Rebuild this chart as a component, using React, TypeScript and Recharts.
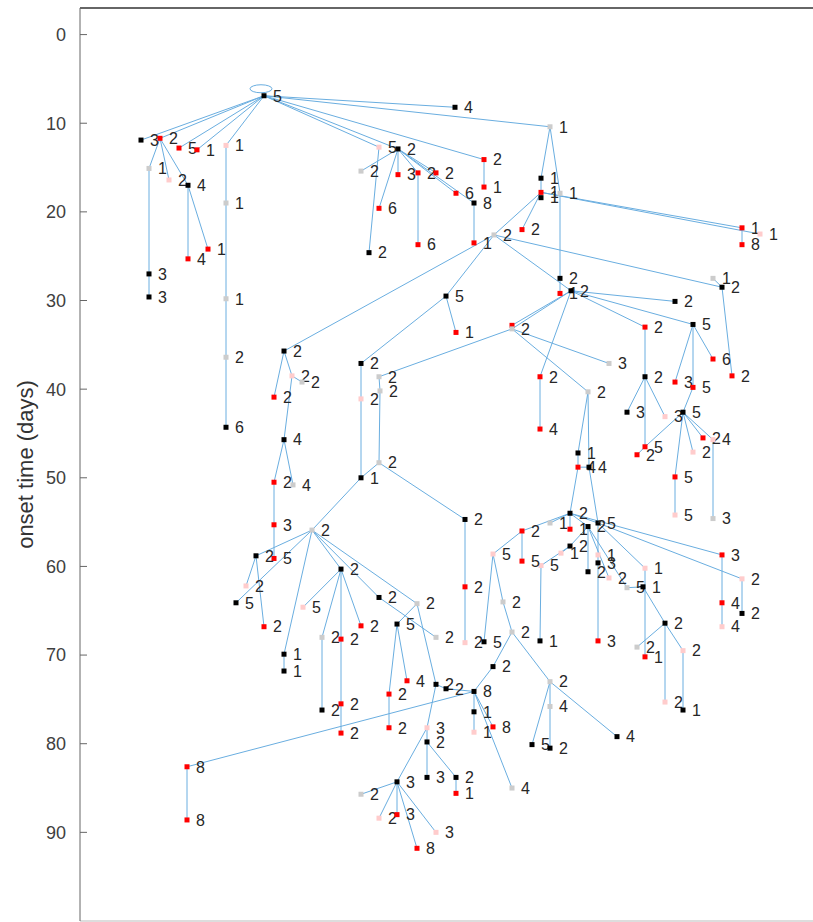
import { ScatterChart, Scatter, XAxis, YAxis, ReferenceLine } from "recharts";

// [case id, horizontal position in the tree, onset day, status, case count]
// status: k = black, r = red, p = pink, g = grey
type Row = [string, number, number, string, number];

const leftBranch: Row[] = [
  ["n0", 264, 6.9, "k", 5],
  ["a1", 141, 11.9, "k", 3],
  ["a2", 160, 11.7, "r", 2],
  ["a3", 179, 12.8, "r", 5],
  ["a4", 197, 13.0, "r", 1],
  ["a5", 226, 12.5, "p", 1],
  ["a6", 149, 15.1, "g", 1],
  ["a7", 169, 16.4, "p", 2],
  ["a8", 188, 17.0, "k", 4],
  ["a9", 208, 24.2, "r", 1],
  ["a10", 188, 25.3, "r", 4],
  ["a11", 149, 27.0, "k", 3],
  ["a12", 149, 29.6, "k", 3],
  ["a13", 226, 19.0, "g", 1],
  ["a14", 226, 29.8, "g", 1],
  ["a15", 226, 36.4, "g", 2],
  ["a16", 226, 44.3, "k", 6],
];

const upperBranch: Row[] = [
  ["b1", 455, 8.2, "k", 4],
  ["b2", 550, 10.4, "g", 1],
  ["b3", 398, 12.9, "k", 2],
  ["b4", 379, 12.7, "p", 5],
  ["b5", 361, 15.4, "g", 2],
  ["b6", 398, 15.8, "r", 3],
  ["b7", 418, 15.6, "r", 2],
  ["b8", 436, 15.6, "r", 2],
  ["b9", 484, 14.1, "r", 2],
  ["b10", 484, 17.2, "r", 1],
  ["b11", 456, 17.9, "r", 6],
  ["b12", 474, 19.0, "k", 8],
  ["b13", 379, 19.6, "r", 6],
  ["b14", 369, 24.6, "k", 2],
  ["b15", 418, 23.7, "r", 6],
  ["b16", 474, 23.5, "r", 1],
  ["b17", 494, 22.6, "g", 2],
  ["b18", 522, 22.0, "r", 2],
  ["b19", 541, 16.2, "k", 1],
  ["b20", 541, 17.8, "r", 1],
  ["b21", 541, 18.4, "k", 1],
  ["b22", 560, 17.9, "g", 1],
  ["b23", 742, 21.8, "r", 1],
  ["b24", 760, 22.5, "p", 1],
  ["b25", 742, 23.7, "r", 8],
  ["b26", 560, 27.5, "k", 2],
  ["b27", 560, 29.2, "r", 1],
  ["b28", 571, 28.9, "k", 2],
  ["b29", 713, 27.5, "g", 1],
  ["b30", 722, 28.5, "k", 2],
  ["b31", 675, 30.1, "k", 2],
  ["b32", 446, 29.5, "k", 5],
];

const lowerLeft: Row[] = [
  ["c1", 284, 35.7, "k", 2],
  ["c2", 292, 38.5, "p", 2],
  ["c3", 302, 39.2, "g", 2],
  ["c4", 274, 40.9, "r", 2],
  ["c5", 284, 45.7, "k", 4],
  ["c6", 274, 50.5, "r", 2],
  ["c7", 293, 50.8, "g", 4],
  ["c8", 274, 55.3, "r", 3],
  ["c9", 274, 59.1, "r", 5],
  ["c10", 312, 55.9, "g", 2],
  ["c11", 256, 58.8, "k", 2],
  ["c12", 246, 62.2, "p", 2],
  ["c13", 236, 64.1, "k", 5],
  ["c14", 264, 66.8, "r", 2],
  ["c15", 303, 64.6, "p", 5],
  ["c16", 284, 69.9, "k", 1],
  ["c17", 284, 71.8, "k", 1],
  ["c18", 322, 68.0, "g", 2],
  ["c19", 322, 76.2, "k", 2],
  ["c20", 341, 60.3, "k", 2],
  ["c21", 361, 66.7, "r", 2],
  ["c22", 341, 68.2, "r", 2],
  ["c23", 341, 75.5, "r", 2],
  ["c24", 341, 78.8, "r", 2],
  ["c25", 379, 63.5, "k", 2],
  ["c26", 417, 64.2, "g", 2],
  ["c27", 397, 66.5, "k", 5],
  ["c28", 436, 68.0, "g", 2],
  ["c29", 407, 72.9, "r", 4],
  ["c30", 389, 74.4, "r", 2],
  ["c31", 389, 78.2, "r", 2],
  ["c32", 436, 73.3, "k", 2],
  ["c33", 446, 73.8, "k", 2],
  ["c34", 474, 74.1, "k", 8],
  ["c35", 474, 76.4, "k", 1],
  ["c36", 474, 78.7, "p", 1],
  ["c37", 493, 78.1, "r", 8],
  ["c38", 512, 85.0, "g", 4],
  ["c39", 187, 82.6, "r", 8],
  ["c40", 187, 88.6, "r", 8],
  ["c41", 427, 78.2, "p", 3],
  ["c42", 427, 79.8, "k", 2],
  ["c43", 427, 83.8, "k", 3],
  ["c44", 456, 83.8, "k", 2],
  ["c45", 456, 85.6, "r", 1],
  ["c46", 397, 84.3, "k", 3],
  ["c47", 361, 85.7, "g", 2],
  ["c48", 379, 88.4, "p", 2],
  ["c49", 397, 88.0, "r", 3],
  ["c50", 436, 90.0, "p", 3],
  ["c51", 417, 91.8, "r", 8],
];

const centreBranch: Row[] = [
  ["d1", 456, 33.6, "r", 1],
  ["d2r", 512, 32.8, "r", 0],
  ["d2", 512, 33.2, "g", 2],
  ["d3", 361, 37.1, "k", 2],
  ["d4", 379, 38.6, "g", 2],
  ["d5", 380, 40.2, "g", 2],
  ["d6", 361, 41.1, "p", 2],
  ["d7", 379, 48.3, "g", 2],
  ["d8", 361, 50.0, "k", 1],
  ["d9", 465, 54.7, "k", 2],
  ["d10", 465, 62.3, "r", 2],
  ["d11", 465, 68.6, "p", 2],
  ["d12", 540, 38.6, "r", 2],
  ["d13", 540, 44.5, "r", 4],
  ["d14", 609, 37.1, "g", 3],
  ["d15", 588, 40.3, "g", 2],
  ["d16", 578, 47.2, "k", 1],
  ["d17", 578, 48.8, "r", 4],
  ["d18", 589, 48.8, "k", 4],
];

const lowerRight: Row[] = [
  ["e1", 570, 54.0, "k", 2],
  ["e2", 550, 55.1, "g", 1],
  ["e3", 570, 55.8, "r", 1],
  ["e4", 598, 55.1, "k", 5],
  ["e5", 588, 55.5, "k", 2],
  ["e6", 570, 57.7, "k", 2],
  ["e7", 561, 58.5, "p", 1],
  ["e8", 541, 59.9, "p", 5],
  ["e9", 588, 60.6, "k", 2],
  ["e10", 598, 58.7, "p", 1],
  ["e11", 598, 59.6, "k", 3],
  ["e12", 609, 61.3, "p", 2],
  ["e13", 645, 60.2, "p", 1],
  ["e14", 627, 62.4, "g", 5],
  ["e15", 643, 62.3, "k", 1],
  ["e16", 522, 56.0, "r", 2],
  ["e17", 522, 59.4, "r", 5],
  ["e18", 493, 58.6, "p", 5],
  ["e19", 503, 64.0, "g", 2],
  ["e20", 484, 68.5, "k", 5],
  ["e21", 512, 67.4, "g", 2],
  ["e22", 493, 71.3, "k", 2],
  ["e23", 540, 68.4, "k", 1],
  ["e24", 598, 68.4, "r", 3],
  ["e25", 722, 58.7, "r", 3],
  ["e26", 742, 61.4, "p", 2],
  ["e27", 722, 64.1, "r", 4],
  ["e28", 742, 65.3, "k", 2],
  ["e29", 722, 66.8, "p", 4],
  ["e30", 665, 66.4, "k", 2],
  ["e31", 637, 69.1, "g", 2],
  ["e32", 645, 70.2, "r", 1],
  ["e33", 683, 69.5, "p", 2],
  ["e34", 665, 75.3, "p", 2],
  ["e35", 683, 76.2, "k", 1],
  ["e36", 550, 73.0, "g", 2],
  ["e37", 550, 75.8, "g", 4],
  ["e38", 532, 80.1, "k", 5],
  ["e39", 550, 80.5, "k", 2],
  ["e40", 617, 79.2, "k", 4],
];

const rightBranch: Row[] = [
  ["f1", 645, 33.0, "r", 2],
  ["f2", 693, 32.7, "k", 5],
  ["f3", 713, 36.6, "r", 6],
  ["f4", 732, 38.5, "r", 2],
  ["f5", 645, 38.6, "k", 2],
  ["f6", 675, 39.2, "r", 3],
  ["f7", 693, 39.8, "r", 5],
  ["f8", 627, 42.6, "k", 3],
  ["f9", 665, 43.1, "p", 3],
  ["f10", 683, 42.6, "k", 5],
  ["f11", 645, 46.5, "r", 5],
  ["f12", 637, 47.4, "r", 2],
  ["f13", 703, 45.5, "r", 2],
  ["f14", 713, 45.7, "p", 4],
  ["f15", 693, 47.1, "p", 2],
  ["f16", 675, 49.9, "r", 5],
  ["f17", 675, 54.2, "p", 5],
  ["f18", 713, 54.6, "g", 3],
];

// who infected whom
const links: [string, string][] = [
  ["n0", "a1"], ["n0", "a2"], ["n0", "a3"], ["n0", "a4"], ["n0", "a5"],
  ["a2", "a6"], ["a2", "a7"], ["a2", "a8"], ["a6", "a11"], ["a11", "a12"],
  ["a8", "a9"], ["a8", "a10"], ["a5", "a13"], ["a13", "a14"], ["a14", "a15"], ["a15", "a16"],
  ["n0", "b1"], ["n0", "b2"], ["n0", "b3"], ["n0", "b4"], ["n0", "b9"],
  ["b3", "b5"], ["b3", "b6"], ["b3", "b7"], ["b3", "b8"], ["b3", "b11"], ["b3", "b12"], ["b3", "b13"],
  ["b4", "b14"], ["b7", "b15"], ["b9", "b10"], ["b12", "b16"],
  ["b2", "b19"], ["b2", "b22"], ["b19", "b20"], ["b20", "b21"], ["b20", "b17"], ["b20", "b18"],
  ["b20", "b23"], ["b20", "b24"], ["b23", "b25"], ["b22", "b26"], ["b26", "b27"],
  ["b17", "b28"], ["b17", "b30"], ["b17", "b32"], ["b17", "c1"],
  ["b30", "b29"], ["b30", "f4"], ["b28", "b31"], ["b28", "f1"], ["b28", "f2"],
  ["b28", "d2"], ["b28", "d2r"], ["b28", "d12"], ["b32", "d1"], ["b32", "d3"],
  ["c1", "c2"], ["c1", "c4"], ["c2", "c3"], ["c2", "c5"], ["c5", "c6"], ["c5", "c7"], ["c6", "c8"], ["c8", "c9"],
  ["d8", "c10"], ["c10", "c11"], ["c10", "c13"], ["c10", "c16"], ["c10", "c20"], ["c10", "c25"], ["c10", "c26"],
  ["c11", "c12"], ["c11", "c14"], ["c16", "c17"],
  ["c20", "c15"], ["c20", "c18"], ["c20", "c21"], ["c20", "c22"], ["c18", "c19"], ["c22", "c23"], ["c23", "c24"],
  ["c25", "c28"], ["c26", "c27"], ["c26", "c32"], ["c27", "c29"], ["c27", "c30"], ["c30", "c31"],
  ["c32", "c33"], ["c33", "c34"], ["c32", "c41"],
  ["c34", "c35"], ["c35", "c36"], ["c34", "c37"], ["c34", "c38"], ["c34", "c39"], ["c39", "c40"],
  ["c41", "c42"], ["c42", "c43"], ["c42", "c44"], ["c44", "c45"], ["c41", "c46"],
  ["c46", "c47"], ["c46", "c48"], ["c46", "c49"], ["c46", "c50"], ["c46", "c51"],
  ["d2", "d4"], ["d2", "d14"], ["d2", "d15"], ["d3", "d6"], ["d6", "d8"], ["d4", "d5"], ["d5", "d7"],
  ["d7", "d8"], ["d7", "d9"], ["d9", "d10"], ["d10", "d11"], ["d12", "d13"],
  ["d15", "d16"], ["d16", "d17"], ["d15", "d18"], ["d17", "d18"], ["d17", "e1"], ["d18", "e4"],
  ["e1", "e2"], ["e1", "e3"], ["e1", "e16"], ["e1", "e25"], ["e1", "e5"], ["e1", "e4"],
  ["e4", "e10"], ["e10", "e11"], ["e11", "e24"], ["e4", "e26"], ["e4", "e13"],
  ["e5", "e6"], ["e5", "e9"], ["e5", "e12"], ["e5", "e14"],
  ["e6", "e7"], ["e6", "e8"], ["e8", "e23"], ["e14", "e15"], ["e15", "e30"], ["e13", "e32"],
  ["e30", "e31"], ["e30", "e34"], ["e30", "e33"], ["e33", "e35"],
  ["e16", "e17"], ["e16", "e18"], ["e18", "e20"], ["e18", "e19"], ["e19", "e21"],
  ["e21", "e22"], ["e21", "e36"], ["e22", "c34"],
  ["e36", "e37"], ["e37", "e39"], ["e36", "e38"], ["e36", "e40"],
  ["e25", "e27"], ["e27", "e29"], ["e26", "e28"],
  ["f1", "f5"], ["f2", "f3"], ["f2", "f6"], ["f2", "f7"], ["f7", "f10"],
  ["f5", "f8"], ["f5", "f9"], ["f5", "f11"], ["f11", "f12"],
  ["f10", "f13"], ["f10", "f14"], ["f10", "f15"], ["f10", "f16"], ["f10", "f11"],
  ["f16", "f17"], ["f14", "f18"],
];

const selfLoops = ["n0"];
const yTicks = [0, 10, 20, 30, 40, 50, 60, 70, 80, 90];

const EDGE = "#6aaee0";
const FONT = "'Liberation Sans', Arial, sans-serif";
const statusFill: Record<string, string> = {
  k: "#000000",
  r: "#ff0000",
  p: "#ffcccc",
  g: "#cccccc",
};

const rows = [...leftBranch, ...upperBranch, ...lowerLeft, ...centreBranch, ...lowerRight, ...rightBranch];
const points = rows.map(([id, x, day, status, count]) => ({ id, x, day, status, count }));
const byId = new Map(points.map((p) => [p.id, p]));

function CaseNode(props: any) {
  const { cx, cy, payload } = props;
  if (cx == null || cy == null) return null;
  return (
    <g>
      {selfLoops.includes(payload.id) && (
        <ellipse cx={cx - 3} cy={cy - 7} rx={11} ry={4} fill="none" stroke={EDGE} strokeWidth={1} />
      )}
      <rect x={cx - 2.5} y={cy - 2.5} width={5} height={5} fill={statusFill[payload.status]} />
      {payload.count > 0 && (
        <text x={cx + 9} y={cy} dy="0.36em" fontSize={16} fontFamily={FONT} fill="#262626">
          {payload.count}
        </text>
      )}
    </g>
  );
}

function AxisTitle(props: any) {
  const vb = props.viewBox ?? { x: 8, y: 8, width: 72, height: 913 };
  const cx = vb.x + 17;
  const cy = vb.y + vb.height / 2;
  return (
    <text
      x={cx}
      y={cy}
      transform={`rotate(-90, ${cx}, ${cy})`}
      textAnchor="middle"
      dominantBaseline="central"
      fontSize={22}
      fontFamily={FONT}
      fill="#333"
    >
      onset time (days)
    </text>
  );
}

export default function App() {
  return (
    <div
      style={{
        position: "absolute",
        left: 0,
        top: 0,
        width: 813,
        height: 922,
        overflow: "hidden",
        background: "#fff",
      }}
    >
      <ScatterChart width={850} height={930} margin={{ top: 8, right: 15, bottom: 9, left: 8 }}>
        <XAxis type="number" dataKey="x" domain={[80, 835]} hide />
        <YAxis
          type="number"
          dataKey="day"
          domain={[-3, 100]}
          reversed
          ticks={yTicks}
          width={72}
          tickSize={-7}
          tickMargin={21}
          axisLine={{ stroke: "#666" }}
          tickLine={{ stroke: "#666" }}
          tick={{ fontSize: 18, fill: "#404040", fontFamily: FONT }}
          label={{ content: AxisTitle }}
        />
        <ReferenceLine y={-3} stroke="#333" strokeWidth={1.5} />
        <ReferenceLine y={100} stroke="#bbb" />
        {links.map(([from, to]) => {
          const a = byId.get(from)!;
          const b = byId.get(to)!;
          return (
            <ReferenceLine
              key={from + "-" + to}
              segment={[
                { x: a.x, y: a.day },
                { x: b.x, y: b.day },
              ]}
              stroke={EDGE}
              strokeWidth={1}
            />
          );
        })}
        <Scatter data={points} dataKey="day" shape={CaseNode} isAnimationActive={false} />
      </ScatterChart>
    </div>
  );
}
